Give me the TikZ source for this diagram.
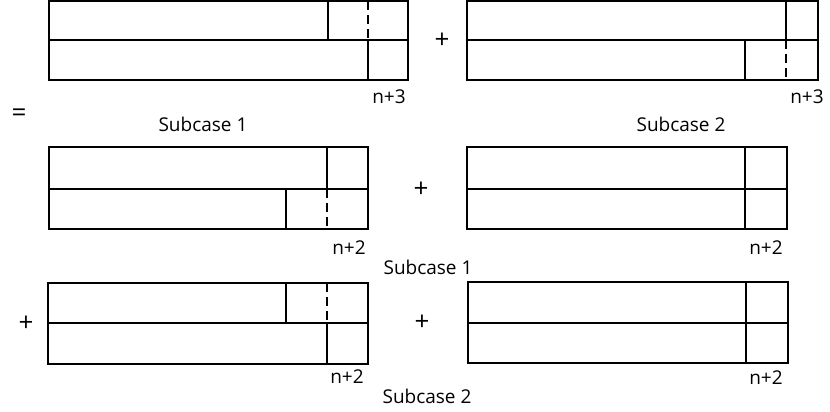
\documentclass[tikz,border=0pt]{standalone}
\usepackage{fontspec}
\setmainfont{Open Sans}

\begin{document}
\begin{tikzpicture}[x=1pt, y=-1pt]

\tikzstyle{line} = [line width=1.5pt]
\tikzstyle{cut} = [line width=1.5pt, dash pattern=on 9pt off 5pt]
\tikzstyle{lbl} = [inner sep=0pt, font=\fontsize{19}{23}\selectfont]
\tikzstyle{sign} = [inner sep=0pt, font=\fontsize{26}{30}\selectfont]

\useasboundingbox (0,0) rectangle (830,412);

% n+3, subcase 1
\draw [line] (49,1) rectangle (408,80);
\draw [line] (49,40) -- (408,40);
\draw [line] (328,1) -- (328,40);
\draw [cut] (368,1) -- (368,40);
\draw [line] (368,40) -- (368,80);

% n+3, subcase 2
\draw [line] (467,1) rectangle (818,80);
\draw [line] (467,40) -- (818,40);
\draw [line] (786,1) -- (786,40);
\draw [line] (745,40) -- (745,80);
\draw [cut] (786,40) -- (786,80);

% n+2, subcase 1
\draw [line] (49,147) rectangle (368,229);
\draw [line] (49,189) -- (368,189);
\draw [line] (327,147) -- (327,189);
\draw [line] (286,189) -- (286,229);
\draw [cut] (327,189) -- (327,229);

\draw [line] (467,147) rectangle (787,229);
\draw [line] (467,189) -- (787,189);
\draw [line] (745,147) -- (745,229);

% n+2, subcase 2
\draw [line] (48,283) rectangle (368,364);
\draw [line] (48,323) -- (368,323);
\draw [line] (286,283) -- (286,323);
\draw [cut] (327,283) -- (327,323);
\draw [line] (327,323) -- (327,364);

\draw [line] (468,282) rectangle (788,363);
\draw [line] (468,323) -- (788,323);
\draw [line] (746,282) -- (746,363);

\node (eq) [sign] at (19,115) {=};
\node (plusA) [sign] at (442,41) {+};
\node (plusB) [sign] at (421,190) {+};
\node (plusC) [sign] at (26,324) {+};
\node (plusD) [sign] at (422,323) {+};

\node (nA) [lbl] at (389,97) {n+3};
\node (nB) [lbl] at (807,97) {n+3};
\node (nC) [lbl] at (349,248) {n+2};
\node (nD) [lbl] at (766,248) {n+2};
\node (nE) [lbl] at (347,377) {n+2};
\node (nF) [lbl] at (766,378) {n+2};

\node (subA) [lbl] at (203,124) {Subcase 1};
\node (subB) [lbl] at (681,124) {Subcase 2};
\node (subC) [lbl] at (428,267) {Subcase 1};
\node (subD) [lbl] at (427,396) {Subcase 2};

\end{tikzpicture}
\end{document}
